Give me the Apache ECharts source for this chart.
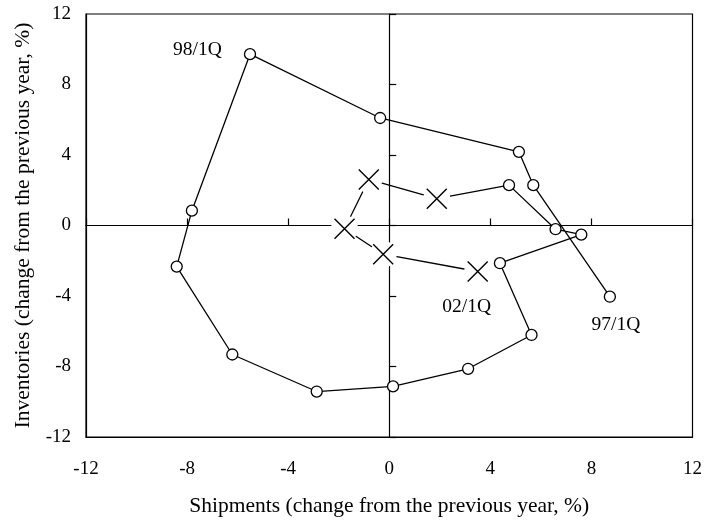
<!DOCTYPE html>
<html>
<head>
<meta charset="utf-8">
<script src="https://cdn.jsdelivr.net/npm/echarts@6/dist/echarts.min.js"></script>
<style>
  html, body { margin: 0; padding: 0; background: #fff; }
  #chart { width: 705px; height: 522px; }
</style>
</head>
<body>
<div id="chart"></div>
<script>
// Quarterly path of shipments vs. inventories (year-on-year change, %)
const quarters = [
  '97/1Q', '97/2Q', '97/3Q', '97/4Q',
  '98/1Q', '98/2Q', '98/3Q', '98/4Q',
  '99/1Q', '99/2Q', '99/3Q', '99/4Q',
  '00/1Q', '00/2Q', '00/3Q', '00/4Q',
  '01/1Q', '01/2Q', '01/3Q', '01/4Q',
  '02/1Q'
];
const shipments = [
  8.73, 5.70, 5.13, -0.36,
  -5.51, -7.81, -8.41, -6.21,
  -2.87, 0.15, 3.12, 5.63,
  4.38, 7.60, 6.58, 4.74,
  1.88, -0.81, -1.77, -0.24,
  3.50
];
const inventories = [
  -4.04, 2.29, 4.18, 6.10,
  9.72, 0.84, -2.33, -7.32,
  -9.42, -9.13, -8.13, -6.21,
  -2.14, -0.52, -0.21, 2.29,
  1.52, 2.61, -0.18, -1.63,
  -2.61
];
// quarters from this index onward are drawn with a cross marker
const crossFrom = 16;
// quarters that carry a text label
const labelled = ['97/1Q', '98/1Q', '02/1Q'];
const tickValues = [-12, -8, -4, 0, 4, 8, 12];

const FONT = '"Liberation Serif", "Times New Roman", serif';
const pts = quarters.map((q, i) => [shipments[i], inventories[i], q]);
const circlePts = pts.slice(0, crossFrom);
const crossPts = pts.slice(crossFrom);

const labelStyle = {
  '98/1Q': { position: 'left', distance: 22, offset: [0, -4] },
  '97/1Q': { position: 'bottom', distance: 12, offset: [6, 0] },
  '02/1Q': { position: 'bottom', distance: 13, offset: [-11, 0] }
};
function withLabel(p) {
  const item = { value: p };
  if (labelled.includes(p[2])) {
    item.label = Object.assign({
      show: true, formatter: p[2], color: '#000',
      fontFamily: FONT, fontSize: 19.5
    }, labelStyle[p[2]]);
  }
  return item;
}

const chart = echarts.init(document.getElementById('chart'), null, { renderer: 'canvas' });
const axisCommon = {
  type: 'value', min: tickValues[0], max: tickValues[tickValues.length - 1], interval: 4,
  splitLine: { show: false }
};
chart.setOption({
  animation: false,
  backgroundColor: '#fff',
  grid: {
    left: 86, right: 10.5, top: 14, bottom: 84,
    show: true, borderColor: '#000', borderWidth: 1.2, backgroundColor: 'transparent'
  },
  xAxis: [
    Object.assign({}, axisCommon, {
      position: 'bottom',
      axisLine: { onZero: false, lineStyle: { color: '#000', width: 1.2 } },
      axisTick: { show: false },
      axisLabel: { color: '#000', fontFamily: FONT, fontSize: 19, margin: 23 },
      name: 'Shipments (change from the previous year, %)',
      nameLocation: 'middle', nameGap: 58,
      nameTextStyle: { color: '#000', fontFamily: FONT, fontSize: 21.5 }
    }),
    Object.assign({}, axisCommon, {
      position: 'top',
      axisLine: { onZero: true, lineStyle: { color: '#000', width: 1.2 } },
      axisTick: { show: true, inside: false, length: 7, lineStyle: { color: '#000', width: 1.2 } },
      axisLabel: { show: false }
    })
  ],
  yAxis: [
    Object.assign({}, axisCommon, {
      position: 'left',
      axisLine: { onZero: false, lineStyle: { color: '#000', width: 1.2 } },
      axisTick: { show: false },
      axisLabel: { color: '#000', fontFamily: FONT, fontSize: 19, margin: 15 },
      name: 'Inventories (change from the previous year, %)',
      nameLocation: 'middle', nameGap: 46,
      nameTextStyle: { color: '#000', fontFamily: FONT, fontSize: 21.5 }
    }),
    Object.assign({}, axisCommon, {
      position: 'right',
      axisLine: { onZero: true, lineStyle: { color: '#000', width: 1.2 } },
      axisTick: { show: true, inside: false, length: 7, lineStyle: { color: '#000', width: 1.2 } },
      axisLabel: { show: false }
    })
  ],
  series: [
    {
      // connecting path through every quarter
      type: 'line', xAxisIndex: 0, yAxisIndex: 0, z: 2,
      data: pts, showSymbol: false, symbol: 'none',
      lineStyle: { color: '#000', width: 1.3 }
    },
    {
      // white clearing behind the cross markers
      type: 'scatter', xAxisIndex: 0, yAxisIndex: 0, z: 3,
      data: crossPts, symbol: 'circle', symbolSize: 27,
      itemStyle: { color: '#fff', borderWidth: 0, opacity: 1 },
      silent: true
    },
    {
      type: 'scatter', xAxisIndex: 0, yAxisIndex: 0, z: 4,
      data: crossPts.map(withLabel),
      symbol: 'path://M0,0L10,10M10,0L0,10', symbolSize: 20,
      itemStyle: { color: 'none', borderColor: '#000', borderWidth: 1.4, opacity: 1 }
    },
    {
      type: 'scatter', xAxisIndex: 0, yAxisIndex: 0, z: 4,
      data: circlePts.map(withLabel),
      symbol: 'circle', symbolSize: 11,
      itemStyle: { color: '#fff', borderColor: '#000', borderWidth: 1.3, opacity: 1 }
    }
  ]
});
</script>
</body>
</html>
